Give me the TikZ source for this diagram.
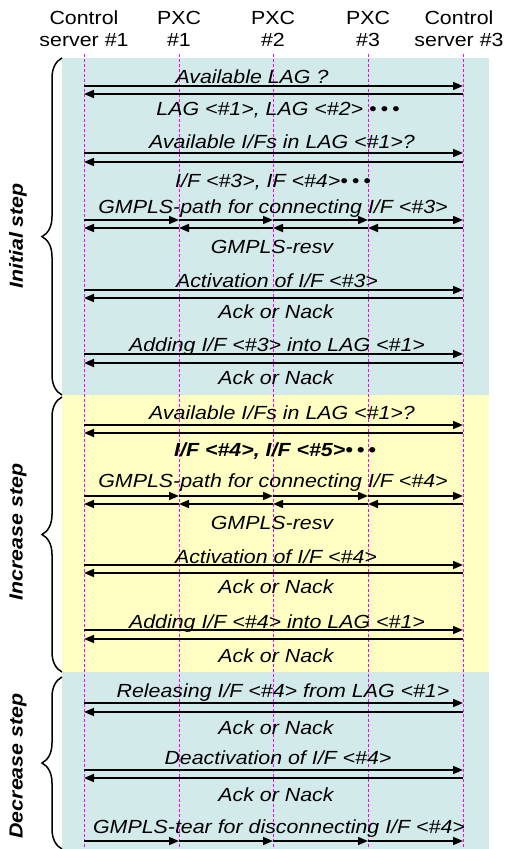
\documentclass[tikz,border=0pt]{standalone}
\usepackage{fontspec}
\setmainfont{Liberation Sans}[FakeStretch=1.125]
\usetikzlibrary{arrows.meta,decorations.pathreplacing}
\definecolor{panelblue}{HTML}{D3EAEA}
\definecolor{panelyellow}{HTML}{FFFFC4}
\definecolor{lifemag}{HTML}{FF00FF}
\tikzset{
  msg/.style={line width=1.6pt, -{Triangle[length=10pt,width=8pt]}},
  lifeline/.style={lifemag, line width=1pt, dash pattern=on 3pt off 2pt},
  lbl/.style={font=\fontsize{19}{22}\selectfont\itshape, inner sep=0pt, anchor=base},
  boldlbl/.style={lbl, font=\fontsize{19}{22}\selectfont\bfseries\itshape},
  hdr/.style={font=\fontsize{19}{22}\selectfont, align=center, inner sep=0pt, anchor=north},
  stepbrace/.style={decorate, decoration={brace, amplitude=20pt}, line width=1.5pt},
  steplbl/.style={font=\fontsize{19}{22}\selectfont\bfseries\itshape, rotate=90, inner sep=0pt},
}
\newcommand{\threedots}{•\kern4pt•\kern4pt•}
\begin{document}
\begin{tikzpicture}[x=1pt,y=-1pt]
\useasboundingbox (0,0) rectangle (505,849);

% phase panels
\fill[panelblue]   (62,58)  rectangle (489,395);
\fill[panelyellow] (62,395) rectangle (489,672);
\fill[panelblue]   (62,672) rectangle (489,849);

% participants
\node[hdr] (h1) at (84,11)  {Control\\server \#1};
\node[hdr] (h2) at (179,11) {PXC\\\#1};
\node[hdr] (h3) at (273,11) {PXC\\\#2};
\node[hdr] (h4) at (368,11) {PXC\\\#3};
\node[hdr] (h5) at (459,11) {Control\\server \#3};

% lifelines
\foreach \i/\x in {1/84,2/179,3/273,4/368,5/463} {
  \coordinate (L\i) at (\x,54);
  \coordinate (B\i) at (\x,849);
  \draw[lifeline] (L\i) -- (B\i);
}

% phase braces and labels
\draw[stepbrace, decoration={aspect=0.47}] (62,395) -- (62,58);
\draw[stepbrace] (62,672) -- (62,397);
\draw[stepbrace] (62,849) -- (62,677);
\node[steplbl] (s1) at (18,236) {Initial step};
\node[steplbl] (s2) at (18,532) {Increase step};
\node[steplbl] (s3) at (18,766) {Decrease step};

% ---- initial step ----
\node[lbl] (m1) at (252,83) {Available LAG ?};
\draw[msg] (L1 |- 0,86) -- (L5 |- 0,86);
\draw[msg] (L5 |- 0,94) -- (L1 |- 0,94);
\node[lbl] (m2) at (278,115) {LAG <\#1>, LAG <\#2> \threedots};

\node[lbl] (m3) at (282,148) {Available I/Fs in LAG <\#1>?};
\draw[msg] (L1 |- 0,153) -- (L5 |- 0,153);
\draw[msg] (L5 |- 0,162) -- (L1 |- 0,162);
\node[lbl] (m4) at (273,187) {I/F <\#3>, IF <\#4>\threedots};

\node[lbl] (m5) at (273,213) {GMPLS-path for connecting I/F <\#3>};
\foreach \a/\b in {1/2,2/3,3/4,4/5} {
  \draw[msg] (L\a |- 0,220) -- (L\b |- 0,220);
  \draw[msg] (L\b |- 0,228) -- (L\a |- 0,228);
}
\node[lbl] (m6) at (272,253) {GMPLS-resv};

\node[lbl] (m7) at (277,287) {Activation of I/F <\#3>};
\draw[msg] (L1 |- 0,290) -- (L5 |- 0,290);
\draw[msg] (L5 |- 0,298) -- (L1 |- 0,298);
\node[lbl] (m8) at (276,318) {Ack or Nack};

\node[lbl] (m9) at (277,351) {Adding I/F <\#3> into LAG <\#1>};
\draw[msg] (L1 |- 0,354) -- (L5 |- 0,354);
\draw[msg] (L5 |- 0,363) -- (L1 |- 0,363);
\node[lbl] (m10) at (276,384) {Ack or Nack};

% ---- increase step ----
\node[lbl] (m11) at (282,419) {Available I/Fs in LAG <\#1>?};
\draw[msg] (L1 |- 0,425) -- (L5 |- 0,425);
\draw[msg] (L5 |- 0,433) -- (L1 |- 0,433);
\node[boldlbl] (m12) at (275,456) {I/F <\#4>, I/F <\#5>\threedots};

\node[lbl] (m13) at (273,487) {GMPLS-path for connecting I/F <\#4>};
\foreach \a/\b in {1/2,2/3,3/4,4/5} {
  \draw[msg] (L\a |- 0,496) -- (L\b |- 0,496);
  \draw[msg] (L\b |- 0,504) -- (L\a |- 0,504);
}
\node[lbl] (m14) at (272,529) {GMPLS-resv};

\node[lbl] (m15) at (276,563) {Activation of I/F <\#4>};
\draw[msg] (L1 |- 0,565) -- (L5 |- 0,565);
\draw[msg] (L5 |- 0,573) -- (L1 |- 0,573);
\node[lbl] (m16) at (276,593) {Ack or Nack};

\node[lbl] (m17) at (277,628) {Adding I/F <\#4> into LAG <\#1>};
\draw[msg] (L1 |- 0,630) -- (L5 |- 0,630);
\draw[msg] (L5 |- 0,639) -- (L1 |- 0,639);
\node[lbl] (m18) at (276,662) {Ack or Nack};

% ---- decrease step ----
\node[lbl] (m19) at (283,697) {Releasing I/F <\#4> from LAG <\#1>};
\draw[msg] (L1 |- 0,703) -- (L5 |- 0,703);
\draw[msg] (L5 |- 0,712) -- (L1 |- 0,712);
\node[lbl] (m20) at (276,734) {Ack or Nack};

\node[lbl] (m21) at (278,764) {Deactivation of I/F <\#4>};
\draw[msg] (L1 |- 0,770) -- (L5 |- 0,770);
\draw[msg] (L5 |- 0,778) -- (L1 |- 0,778);
\node[lbl] (m22) at (276,801) {Ack or Nack};

\node[lbl] (m23) at (279,833) {GMPLS-tear for disconnecting I/F <\#4>};
\foreach \a/\b in {1/2,2/3,3/4,4/5} {
  \draw[msg] (L\a |- 0,841) -- (L\b |- 0,841);
}
\end{tikzpicture}
\end{document}
